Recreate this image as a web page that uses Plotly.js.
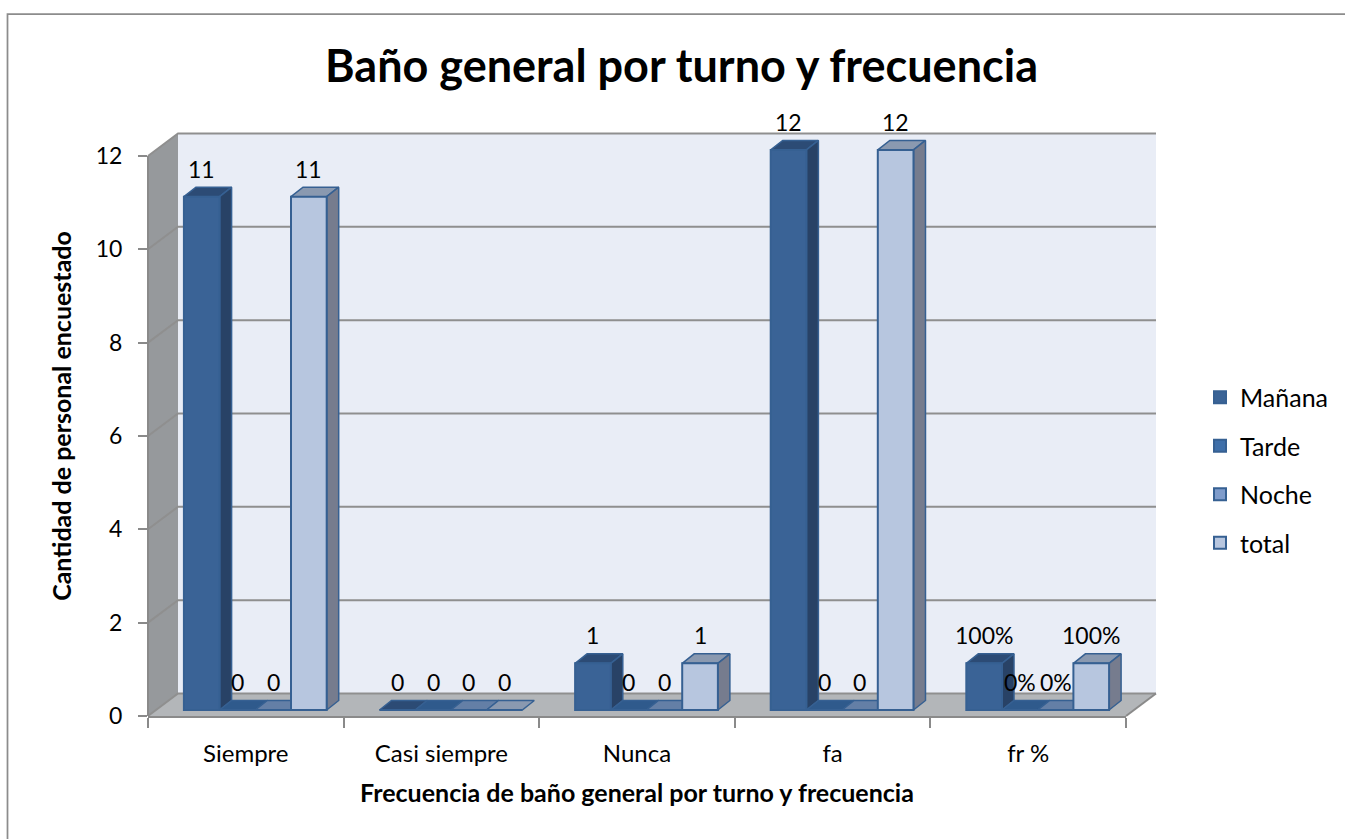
<!DOCTYPE html>
<html>
<head>
<meta charset="utf-8">
<script src="https://cdn.plot.ly/plotly-3.0.1.min.js"></script>
<style>html,body{margin:0;padding:0;background:#fff}#chart{width:1345px;height:839px}</style>
</head>
<body>
<div id="chart"></div>
<script>
// ---- data ----
const categories = ['Siempre', 'Casi siempre', 'Nunca', 'fa', 'fr %'];
const manana = [11, 0, 1, 12, 1];
const tarde  = [0, 0, 0, 0, 0];
const noche  = [0, 0, 0, 0, 0];
const total  = [11, 0, 1, 12, 1];
const mananaLabels = ['11', '0', '1', '12', '100%'];
const tardeLabels  = ['0', '0', '0', '0', '0%'];
const nocheLabels  = ['0', '0', '0', '0', '0%'];
const totalLabels  = ['11', '0', '1', '12', '100%'];
const yTicks = [0, 2, 4, 6, 8, 10, 12];

const seriesNames = ['Mañana', 'Tarde', 'Noche', 'total'];
const seriesValues = [manana, tarde, noche, total];
const seriesLabels = [mananaLabels, tardeLabels, nocheLabels, totalLabels];

// ---- style / layout constants (pixels of the 1345x839 page) ----
const W = 1345, H = 839;
const FONT = 'Lato, Carlito, Calibri, sans-serif';
const frontL = 148, frontR = 1126, frontB = 716;      // front plane of the 3D box
const pxPerCat = (frontR - frontL) / categories.length;
const pxPerUnit = 46.67;
const wallDX = 30, wallDY = 22.5;                     // depth of the box
const barDX = 9.5, barDY = 6;                         // where bars start in depth
const faceDX = 12, faceDY = 9.5;                      // depth of each bar
const BARGAP = 0.27;
const OUT = '#366092';
const frontCol = ['#3a6396', '#3f6fa9', '#7f9ccb', '#b7c6df'];
const topCol   = ['#2c4b75', '#2f5a8c', '#647fa6', '#8a99b0'];
const sideCol  = ['#284266', '#2b4f7a', '#5a7196', '#767c8e'];

const fx = px => px / W;
const fy = py => 1 - py / H;
const barsW = (1 - BARGAP) / seriesNames.length;

// Hidden data axes: bar base sits at (frontL+barDX, frontB-barDY)
const dataL = frontL + barDX, dataB = frontB - barDY;
const dataTopPx = 90, dataBotPx = dataB + 20, dataRightPx = 1190;
const xRange = [-0.5, -0.5 + (dataRightPx - dataL) / pxPerCat];
const yRange = [-(dataBotPx - dataB) / pxPerUnit, (dataB - dataTopPx) / pxPerUnit];
const hidden = {visible: false, fixedrange: true};
const xData = Object.assign({}, hidden, {domain: [fx(dataL), fx(dataRightPx)], range: xRange, type: 'linear'});
const yData = Object.assign({}, hidden, {domain: [fy(dataBotPx), fy(dataTopPx)], range: yRange, type: 'linear'});

const catIdx = categories.map((_, i) => i);
const traces = [];

// dummy trace keeping the visible axes alive
traces.push({type: 'scatter', mode: 'none', x: categories, y: categories.map(() => 0), xaxis: 'x', yaxis: 'y', showlegend: false, hoverinfo: 'skip'});

// 3D faces computed from the values through the same axes as the bars
const dxU = faceDX / pxPerCat, dyU = faceDY / pxPerUnit;
seriesNames.forEach((name, s) => {
  const tx = [], ty = [], sx = [], sy = [];
  catIdx.forEach(c => {
    const v = seriesValues[s][c];
    const l = c - 0.5 + BARGAP / 2 + s * barsW, r = l + barsW;
    tx.push(l, r, r + dxU, l + dxU, l, null);
    ty.push(v, v, v + dyU, v + dyU, v, null);
    if (v > 0) {
      sx.push(r, r + dxU, r + dxU, r, r, null);
      sy.push(v, v + dyU, dyU, 0, v, null);
    }
  });
  traces.push({type: 'scatter', mode: 'lines', x: tx, y: ty, xaxis: 'x2', yaxis: 'y2', fill: 'toself', fillcolor: topCol[s],
    line: {color: OUT, width: 1.5}, showlegend: false, hoverinfo: 'skip'});
  if (sx.length) traces.push({type: 'scatter', mode: 'lines', x: sx, y: sy, xaxis: 'x2', yaxis: 'y2', fill: 'toself', fillcolor: sideCol[s],
    line: {color: OUT, width: 1.5}, showlegend: false, hoverinfo: 'skip'});
});

// real bars: the front faces
seriesNames.forEach((name, s) => {
  traces.push({type: 'bar', name: name, x: catIdx, y: seriesValues[s], xaxis: 'x3', yaxis: 'y3',
    marker: {color: frontCol[s], line: {color: OUT, width: 2}}, legendgroup: name, hoverinfo: 'y+name'});
});

// data labels
const annotations = [];
seriesNames.forEach((name, s) => {
  catIdx.forEach(c => {
    annotations.push({xref: 'x3', yref: 'y3', x: c - 0.5 + BARGAP / 2 + (s + 0.5) * barsW, y: seriesValues[s][c],
      yshift: 28, text: seriesLabels[s][c], showarrow: false, xanchor: 'center', yanchor: 'middle',
      font: {family: FONT, size: 23, color: '#000'}});
  });
});

// box: walls, floor, gridlines, frame
const poly = pts => 'M' + pts.map(p => fx(p[0]) + ',' + fy(p[1])).join('L') + 'Z';
const shp = (pts, fill) => ({type: 'path', xref: 'paper', yref: 'paper', layer: 'below', path: poly(pts), fillcolor: fill, line: {width: 0}});
const seg = (pts, color, width) => ({type: 'path', xref: 'paper', yref: 'paper', layer: 'below',
  path: 'M' + pts.map(p => fx(p[0]) + ',' + fy(p[1])).join('L'), line: {color: color, width: width}});
const y12 = frontB - 12 * pxPerUnit;
const shapes = [
  shp([[frontL + wallDX, y12 - wallDY], [frontR + wallDX, y12 - wallDY], [frontR + wallDX, frontB - wallDY], [frontL + wallDX, frontB - wallDY]], '#e9edf6'),
  shp([[frontL, frontB], [frontL, y12], [frontL + wallDX, y12 - wallDY], [frontL + wallDX, frontB - wallDY]], '#96999c'),
  shp([[frontL, frontB], [frontR, frontB], [frontR + wallDX, frontB - wallDY], [frontL + wallDX, frontB - wallDY]], '#b3b6b9')
];
yTicks.forEach(v => {
  const py = frontB - v * pxPerUnit;
  shapes.push(seg([[frontL, py], [frontL + wallDX, py - wallDY], [frontR + wallDX, py - wallDY]], '#8f8f8f', 2));
});
shapes.push(seg([[frontL, frontB], [frontL, y12]], '#8a8a8a', 2));
shapes.push(seg([[frontR, frontB], [frontR + wallDX, frontB - wallDY]], '#8a8a8a', 2));
shapes.push(seg([[7.5, H], [7.5, 14], [W, 14]], '#8c8c8c', 1.75));

const layout = {
  width: W, height: H,
  margin: {l: 0, r: 0, t: 0, b: 0, pad: 0},
  paper_bgcolor: '#fff', plot_bgcolor: 'rgba(0,0,0,0)',
  font: {family: FONT, color: '#000'},
  title: {text: '<b>Baño general por turno y frecuencia</b>', font: {family: FONT, size: 45, color: '#000'},
    x: 681.5 / W, xanchor: 'center', y: fy(66), yanchor: 'middle'},
  barmode: 'group', bargap: BARGAP, bargroupgap: 0,
  showlegend: true,
  legend: {x: fx(1200), y: fy(374.5), xanchor: 'left', yanchor: 'top', font: {family: FONT, size: 25, color: '#000'},
    tracegroupgap: 13, traceorder: 'grouped', itemclick: false, itemdoubleclick: false, bgcolor: 'rgba(0,0,0,0)'},
  xaxis: {domain: [fx(frontL), fx(frontR)], type: 'category', categoryorder: 'array', categoryarray: categories,
    range: [-0.5, categories.length - 0.5], tickson: 'boundaries', ticks: 'outside', ticklen: 10, tickwidth: 2, tickcolor: '#8a8a8a',
    showline: true, linecolor: '#8a8a8a', linewidth: 2, showgrid: false, zeroline: false, fixedrange: true, anchor: 'y',
    tickfont: {family: FONT, size: 24, color: '#000'}, ticklabelstandoff: 15,
    title: {text: '<b>Frecuencia de baño general por turno y frecuencia</b>', font: {family: FONT, size: 25, color: '#000'}, standoff: 19}},
  yaxis: {domain: [fy(frontB), fy(116)], range: [0, (frontB - 116) / pxPerUnit], tickmode: 'array', tickvals: yTicks, ticktext: yTicks.map(String),
    ticks: 'outside', ticklen: 9, tickwidth: 2, tickcolor: '#8a8a8a', showline: false, showgrid: false, zeroline: false, fixedrange: true, anchor: 'x',
    tickfont: {family: FONT, size: 23, color: '#000'}, ticklabelstandoff: 11,
    title: {text: '<b>Cantidad de personal encuestado</b>', font: {family: FONT, size: 25, color: '#000'}, standoff: 16}},
  xaxis2: Object.assign({}, xData, {anchor: 'y2'}),
  yaxis2: Object.assign({}, yData, {anchor: 'x2'}),
  xaxis3: Object.assign({}, xData, {anchor: 'y3'}),
  yaxis3: Object.assign({}, yData, {anchor: 'x3'}),
  shapes: shapes,
  annotations: annotations
};
Plotly.newPlot('chart', traces, layout, {displayModeBar: false, responsive: false});
</script>
</body>
</html>
